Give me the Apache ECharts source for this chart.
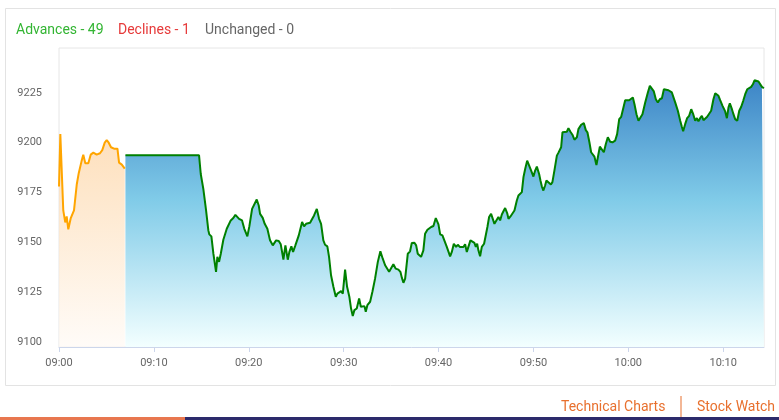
<!DOCTYPE html>
<html>
<head>
<meta charset="utf-8">
<script src="https://cdn.jsdelivr.net/npm/echarts@6/dist/echarts.min.js"></script>
<style>
html,body{margin:0;padding:0;background:#fff;}
#chart{width:779px;height:420px;}
</style>
</head>
<body>
<div id="chart"></div>
<script>
// minutes after 09:00 and index values
var preOpenMin = [0,0.14,0.45,0.66,0.81,0.98,1.23,1.58,1.87,2.08,2.21,2.39,2.56,2.77,3.09,3.34,3.62,3.97,4.32,4.56,4.82,5.03,5.24,5.48,5.80,6.01,6.16,6.33,6.62,6.93];
var preOpenVal = [9178,9204.3,9166,9160,9163,9156.5,9162,9166,9179,9184.7,9185,9191,9194,9189.7,9189.7,9194,9195,9194,9194.7,9196.3,9200,9201.3,9200,9197.7,9197,9198,9197,9190,9189,9187];

var mainMin = [7.0,14.76,14.94,15.21,15.50,15.74,15.84,16.06,16.27,16.55,16.69,16.87,17.05,17.32,17.53,17.68,17.89,18.10,18.37,18.59,18.80,18.98,19.15,19.29,19.53,19.85,20.06,20.35,20.56,20.84,21.05,21.19,21.47,21.68,21.96,22.24,22.53,22.74,22.88,23.16,23.37,23.65,23.86,24.11,24.28,24.49,24.67,24.91,25.27,25.62,25.83,26.04,26.25,26.46,26.67,26.88,27.17,
27.41,27.62,27.86,28.04,28.28,28.46,28.67,28.92,29.17,29.34,29.55,29.73,29.91,30.15,30.36,30.60,30.78,30.96,31.13,31.38,31.63,31.81,32.02,32.19,32.33,32.50,32.79,33.03,33.31,33.60,33.87,34.12,34.37,34.58,34.79,35.00,35.24,35.49,35.77,35.98,36.13,36.30,36.48,36.76,37.00,37.18,37.46,37.64,37.81,38.16,38.40,38.58,38.83,39.01,39.22,39.46,39.71,39.99,
40.17,40.41,40.62,40.87,41.22,41.40,41.61,41.85,42.03,42.24,42.45,42.62,42.80,42.98,43.15,43.36,43.57,43.78,43.93,44.07,44.20,44.38,44.56,44.80,44.98,45.15,45.33,45.54,45.68,45.89,46.10,46.31,46.49,46.67,46.88,47.02,47.23,47.37,47.58,47.79,48.00,48.25,48.42,48.63,48.78,48.95,49.13,49.34,49.55,49.76,50.00,50.18,50.36,50.60,50.74,50.89,51.05,51.23,51.37,51.58,51.84,52.00,52.21,52.47,52.64,52.92,
53.06,53.27,53.52,53.69,53.90,54.11,54.32,54.58,54.74,55.03,55.31,55.52,55.69,55.90,56.08,56.29,56.43,56.64,56.79,57.00,57.21,57.42,57.63,57.84,58.09,58.33,58.61,58.82,59.04,59.25,59.43,59.67,59.88,60.09,60.30,60.48,60.65,60.86,61.07,61.28,61.49,61.78,62.06,62.27,62.48,62.69,62.90,63.11,63.32,63.54,63.75,
64.23,64.59,64.76,64.94,65.22,65.47,65.64,65.78,65.99,66.20,66.41,66.63,66.84,67.05,67.23,67.39,67.57,67.75,67.92,68.10,68.31,68.52,68.73,68.97,69.16,69.33,69.50,69.68,69.93,70.21,70.39,70.56,70.70,70.92,71.08,71.26,71.48,71.69,71.90,72.11,72.32,72.53,72.74,72.95,73.13,73.30,73.51,73.72,73.90,74.08,74.29];
var mainVal = [9193.7,9193.7,9184.3,9176.8,9166,9156,9154,9153,9144.3,9135.2,9142.7,9140.2,9144.3,9151.3,9152.3,9156.8,9157.3,9161,9162.2,9163.8,9163.5,9161.8,9162.7,9161,9156.8,9153,9158,9166.8,9167.7,9171.5,9168.5,9164.3,9162.3,9159.3,9156.8,9151,9148.5,9149,9151,9150.7,9149,9141.3,9148.5,9141.3,9145.2,9148,9145.2,9148.5,9153.5,9160.2,9158,9159.3,9158.5,9159.8,9159.3,9163.5,9166.8,
9161.8,9159.3,9151,9148.8,9148,9142.7,9133.5,9127.7,9122.7,9124.3,9125.2,9125.5,9124.3,9136.3,9127.7,9122.7,9116.8,9113,9116,9116.8,9121.8,9117.7,9118.5,9118,9115.2,9118.5,9120.2,9125.2,9131.8,9140.2,9145.5,9141.8,9138.5,9137.7,9135.2,9136,9139,9136.8,9136.3,9135.2,9132.3,9129.7,9131.8,9144.3,9145.5,9149.7,9149.8,9148.5,9144.3,9142.7,9146,9154.3,9156.3,9155.7,9157.7,9158.2,9162.2,9159,
9154,9153.5,9153,9147.7,9143,9145.2,9149.3,9147.7,9148.8,9147.7,9146.8,9147.7,9149,9145.2,9146,9151,9150.5,9149.7,9147.7,9149.3,9146,9143,9147.7,9149.3,9149.7,9157.7,9162.7,9164.3,9162.3,9159.3,9159.7,9162.7,9161,9164,9166,9167.2,9164.7,9161.8,9163,9162.7,9166,9171,9173.5,9172.7,9175.2,9182.7,9186.8,9191,9188.5,9186,9183,9186,9188,9184.3,9181,9178,9176,9178.5,9181,9180.2,9179,9180.2,9186,9193.5,9195,9197.7,
9205.2,9206,9205.5,9207.3,9205.5,9204,9201.5,9202.7,9206.8,9209,9209.8,9206.3,9205.2,9200.2,9195.2,9194.3,9193,9188.8,9192.7,9198,9199,9195.2,9199.3,9202.7,9200.5,9200.2,9201,9204.3,9211.8,9213,9213,9221.3,9221.8,9221.3,9221.8,9222.7,9219.3,9214.3,9211,9210.2,9214.3,9220.2,9225.2,9228.5,9229,9225.7,9221.8,9220.2,9221.8,9222.3,9226.8,
9226.3,9225.2,9224.3,9220.2,9216,9211,9208,9205.7,9209.3,9212.3,9213.5,9216.8,9214.3,9211,9212.3,9210.7,9212.3,9213.5,9211.3,9211.8,9213,9212.7,9216,9221.8,9224.8,9225.7,9223.5,9221.3,9218.5,9215.7,9212.3,9217.7,9219.7,9216.8,9214.3,9211.8,9211,9216,9218,9221,9224.3,9226.8,9227.7,9228,9229.3,9231.3,9232,9230.7,9230.2,9228,9227.3];

var legendTexts = ['Advances - 49', 'Declines - 1', 'Unchanged - 0'];
var footerLinks = ['Technical Charts', 'Stock Watch'];

function pairs(xs, ys) { return xs.map(function (x, i) { return [x, ys[i]]; }); }
function hhmm(m) {
  var t = 9 * 60 + Math.round(m);
  var h = Math.floor(t / 60), mm = t % 60;
  return (h < 10 ? '0' : '') + h + ':' + (mm < 10 ? '0' : '') + mm;
}

var chart = echarts.init(document.getElementById('chart'), null, {renderer: 'canvas'});
chart.setOption({
  animation: false,
  backgroundColor: '#fff',
  grid: {left: 59, right: 15, top: 48, bottom: 73, show: true, borderColor: '#e6e6e6', borderWidth: 1, backgroundColor: 'transparent'},
  xAxis: {
    type: 'value', min: 0, max: 74.3, interval: 10,
    axisLine: {show: true, lineStyle: {color: '#ccd6eb', width: 1}},
    axisTick: {show: true, length: 5, lineStyle: {color: '#ccd6eb'}},
    splitLine: {show: false},
    axisLabel: {color: '#666', fontSize: 11, fontFamily: 'Roboto', margin: 11, showMaxLabel: false,
      formatter: function (v) { return hhmm(v); }}
  },
  yAxis: {
    type: 'value', min: 9097.5, max: 9247.5, interval: 2.5,
    axisLine: {show: false}, axisTick: {show: false}, splitLine: {show: false},
    axisLabel: {color: '#666', fontSize: 11, fontFamily: 'Roboto', margin: 17,
      formatter: function (v) { var r = Math.round(v); return (Math.abs(v - r) < 0.01 && r % 25 === 0) ? String(r) : ''; }}
  },
  graphic: [
    {type: 'rect', shape: {x: 5.5, y: 8.5, width: 770, height: 377}, style: {fill: 'none', stroke: '#e3e3e3', lineWidth: 1}, z: -1},
    {type: 'text', left: 16, top: 23, style: {text: legendTexts[0], fill: '#33b533', font: '14px Roboto'}},
    {type: 'text', left: 118, top: 23, style: {text: legendTexts[1], fill: '#e63a3a', font: '14px Roboto'}},
    {type: 'text', left: 205, top: 23, style: {text: legendTexts[2], fill: '#666666', font: '14px Roboto'}},
    {type: 'text', left: 561, top: 400, style: {text: footerLinks[0], fill: '#e8702e', font: '14px Roboto'}},
    {type: 'rect', shape: {x: 680.5, y: 396, width: 1, height: 21}, style: {fill: '#e8702e'}},
    {type: 'text', left: 697, top: 400, style: {text: footerLinks[1], fill: '#e8702e', font: '14px Roboto'}},
    {type: 'rect', shape: {x: 0, y: 417, width: 185, height: 3}, style: {fill: '#e8774f'}},
    {type: 'rect', shape: {x: 185, y: 417, width: 594, height: 3}, style: {fill: '#2c2a6b'}}
  ],
  series: [
    {
      type: 'line', data: pairs(preOpenMin, preOpenVal), symbol: 'none', smooth: false,
      lineStyle: {color: '#ffa500', width: 2},
      areaStyle: {origin: 'start', color: new echarts.graphic.LinearGradient(0, 0, 0, 1, [
        {offset: 0, color: '#fdd29f'}, {offset: 1, color: '#fffaf5'}])}
    },
    {
      type: 'line', data: pairs(mainMin, mainVal), symbol: 'none', smooth: false,
      lineStyle: {color: '#008000', width: 2},
      areaStyle: {origin: 'start', opacity: 1, color: new echarts.graphic.LinearGradient(0, 0, 0, 1, [
        {offset: 0, color: '#3c84c6'}, {offset: 0.45, color: '#80cbe8'}, {offset: 1, color: '#f3ffff'}])}
    }
  ]
});
</script>
</body>
</html>
